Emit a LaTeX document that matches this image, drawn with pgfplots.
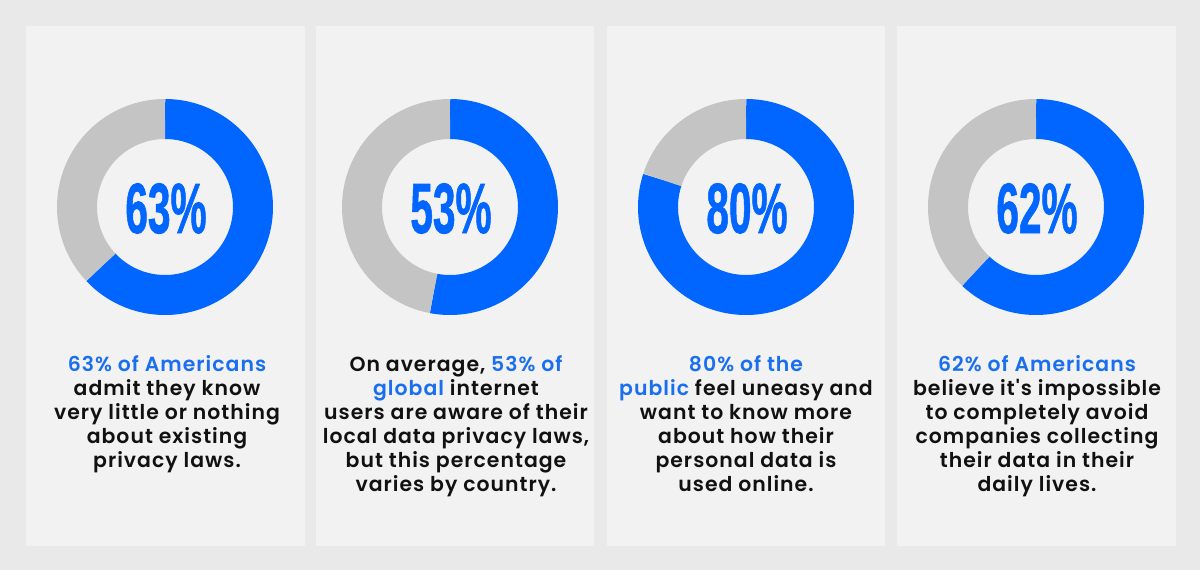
\documentclass[border=0pt]{standalone}
\usepackage{pgfplots}
\pgfplotsset{compat=1.18}
\usepackage{graphicx}
\usepackage{fontspec}
\setmainfont{Liberation Sans}
\newfontfamily\bodyfont{Poppins SemiBold}[LetterSpace=5]
\newfontfamily\numfont{Liberation Sans Bold}[FakeBold=1.2]
\definecolor{bgc}{HTML}{E9E9E9}
\definecolor{panelc}{HTML}{F2F2F2}
\definecolor{donutblue}{HTML}{0066FF}
\definecolor{donutgray}{HTML}{C4C4C4}
\definecolor{textblue}{HTML}{1A6FEF}
\definecolor{textblack}{HTML}{111111}

% #1 = centre x (pt), #2 = value (percent)
\newcommand\donut[2]{%
  \begin{axis}[at={(#1,181.5pt)}, anchor=center,
    width=108pt, height=108pt, scale only axis, hide axis,
    xmin=-1, xmax=1, ymin=-1, ymax=1, clip=false]
    \addplot[draw=donutblue, line width=20pt, domain=0:#2, samples=150, variable=\t]
      ({0.8148*sin(3.6*\t)},{0.8148*cos(3.6*\t)});
    \addplot[draw=donutgray, line width=20pt, domain=#2:100, samples=150, variable=\t]
      ({0.8148*sin(3.6*\t)},{0.8148*cos(3.6*\t)});
  \end{axis}
  \node[anchor=base, text=donutblue, inner sep=0pt] at ([xshift=0.5pt]#1,168.5pt)
    {\scalebox{0.57}[1]{\numfont\fontsize{35.6}{36}\selectfont #2\%}};
}

\tikzset{body/.style={anchor=base, inner sep=0pt, text=textblack,
  font=\bodyfont\fontsize{10.2}{12}\selectfont}}
\newcommand\hl[1]{\textcolor{textblue}{#1}}

\begin{document}
\begin{tikzpicture}
\fill[bgc] (0pt,0pt) rectangle (600pt,285pt);
\fill[panelc] (13pt,12pt) rectangle (152.5pt,272pt);
\fill[panelc] (158pt,12pt) rectangle (297pt,272pt);
\fill[panelc] (303.5pt,12pt) rectangle (442.5pt,272pt);
\fill[panelc] (448.5pt,12pt) rectangle (588pt,272pt);

\donut{82.5pt}{63}
\donut{225pt}{53}
\donut{373pt}{80}
\donut{518pt}{62}

% panel 1
\node[body] at (83.5pt,99.5pt) {\hl{63\% of Americans}};
\node[body] at (83.5pt,87.5pt) {admit they know};
\node[body] at (83.5pt,75.5pt) {very little or nothing};
\node[body] at (83.5pt,63.5pt) {about existing};
\node[body] at (83.5pt,51.5pt) {privacy laws.};
% panel 2
\node[body] at (228pt,99.5pt) {On average, \hl{53\% of}};
\node[body] at (228pt,87.5pt) {\hl{global} internet};
\node[body] at (228pt,75.5pt) {users are aware of their};
\node[body] at (228pt,63.5pt) {local data privacy laws,};
\node[body] at (228pt,51.5pt) {but this percentage};
\node[body] at (228pt,39.5pt) {varies by country.};
% panel 3
\node[body] at (373pt,99.5pt) {\hl{80\% of the}};
\node[body] at (373pt,87.5pt) {\hl{public} feel uneasy and};
\node[body] at (373pt,75.5pt) {want to know more};
\node[body] at (373pt,63.5pt) {about how their};
\node[body] at (373pt,51.5pt) {personal data is};
\node[body] at (373pt,39.5pt) {used online.};
% panel 4
\node[body] at (518.5pt,99.5pt) {\hl{62\% of Americans}};
\node[body] at (518.5pt,87.5pt) {believe it's impossible};
\node[body] at (518.5pt,75.5pt) {to completely avoid};
\node[body] at (518.5pt,63.5pt) {companies collecting};
\node[body] at (518.5pt,51.5pt) {their data in their};
\node[body] at (518.5pt,39.5pt) {daily lives.};
\end{tikzpicture}
\end{document}
